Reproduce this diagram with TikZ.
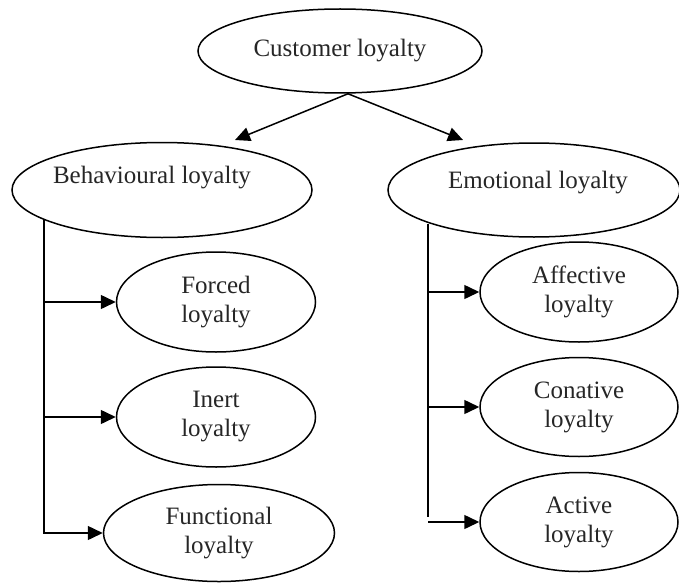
\documentclass[tikz,border=0pt]{standalone}
\usepackage{fontspec}
\setmainfont{Liberation Serif}
\usetikzlibrary{shapes.geometric,arrows.meta,calc}
\begin{document}
\begin{tikzpicture}[x=1pt,y=-1pt,
  ell/.style={draw, ellipse, line width=1.5pt, inner sep=0pt, align=center, font=\fontsize{25}{29}\selectfont, text=black!85},
  lab/.style={font=\fontsize{25}{29}\selectfont, text=black!85},
  arr/.style={line width=1.5pt, -{Triangle[length=15pt,width=14pt]}},
  ln/.style={line width=1.5pt}]
\useasboundingbox (0,0) rectangle (679,583);
% top
\node[ell, minimum width=284pt, minimum height=84pt] (cl) at (340,51) {Customer loyalty};
% second level
\node[ell, minimum width=300pt, minimum height=95pt,
  label={[lab, name=blt, xshift=-10pt, yshift=12pt]center:Behavioural loyalty}] (bl) at (162,190) {};
\node[ell, minimum width=292pt, minimum height=94pt,
  label={[lab, name=elt, xshift=4pt, yshift=7pt]center:Emotional loyalty}] (el) at (534,190) {};
% third level left
\node[ell, minimum width=199pt, minimum height=100pt] (fo) at (216,302) {Forced\\loyalty};
\node[ell, minimum width=199pt, minimum height=100pt] (in) at (216,417) {Inert\\loyalty};
\node[ell, minimum width=231pt, minimum height=97pt] (fu) at (219,533) {Functional\\loyalty};
% third level right
\node[ell, minimum width=198pt, minimum height=100pt] (af) at (579,292) {Affective\\loyalty};
\node[ell, minimum width=198pt, minimum height=99pt] (co) at (579,407) {Conative\\loyalty};
\node[ell, minimum width=198pt, minimum height=99pt] (ac) at (579,522) {Active\\loyalty};
% coordinates
\coordinate (cs) at ($(cl.south)+(8,0)$);
\coordinate (bt) at (235,140);
\coordinate (et) at (463,140);
\coordinate (bs) at (44,220);
\coordinate (be) at (44,534);
\coordinate (es) at (428,224);
\coordinate (ee) at (428,517);
% connectors
\draw[arr] (cs) -- (bt);
\draw[arr] (cs) -- (et);
\draw[ln] (bs) -- (be);
\draw[arr] (fo.west -| bs) -- (fo.west);
\draw[arr] (in.west -| bs) -- (in.west);
\draw[arr] (fu.west -| bs) -- (fu.west);
\draw[ln] (es) -- (ee);
\draw[arr] (af.west -| es) -- (af.west);
\draw[arr] (co.west -| es) -- (co.west);
\draw[arr] (ac.west -| es) -- (ac.west);
\end{tikzpicture}
\end{document}
